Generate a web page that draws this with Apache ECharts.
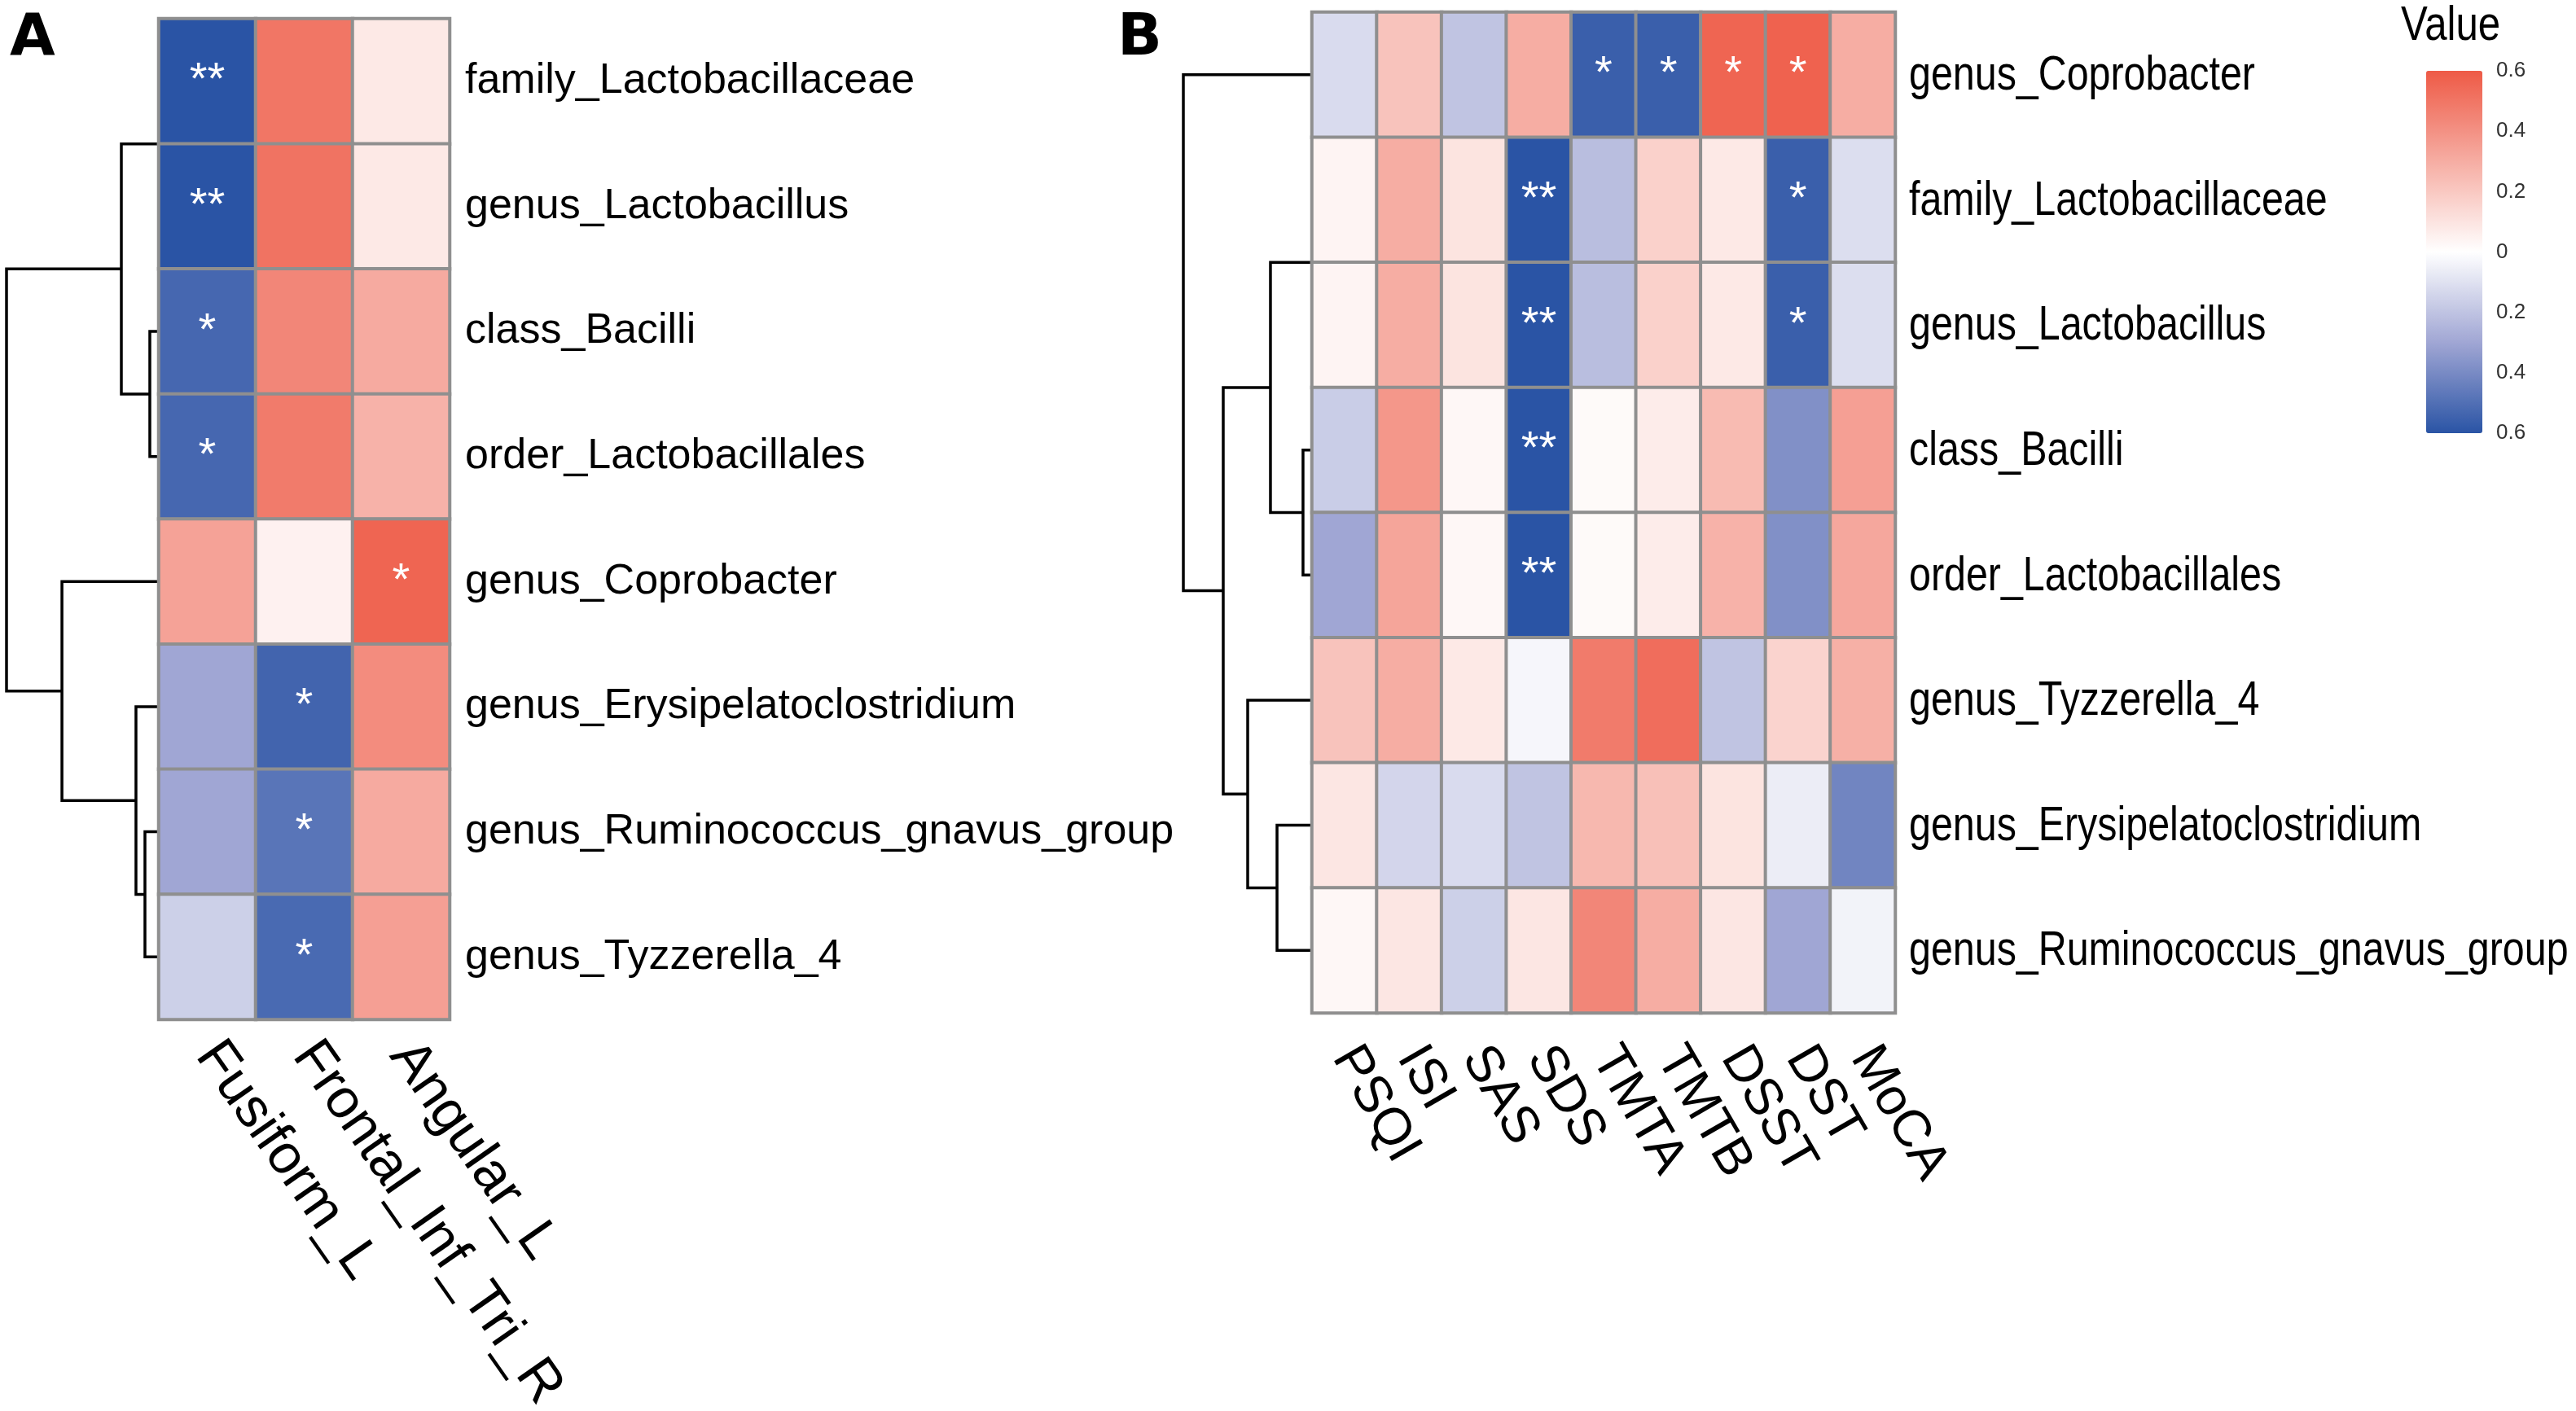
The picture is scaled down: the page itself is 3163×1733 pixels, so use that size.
<!DOCTYPE html>
<html><head><meta charset="utf-8">
<script src="https://cdn.jsdelivr.net/npm/echarts@6/dist/echarts.min.js"></script>
<style>html,body{margin:0;padding:0;background:#fff}#c{width:3163px;height:1733px}</style>
</head><body><div id="c"></div>
<script>
// ---------- Panel A data ----------
const rowsA = ['family_Lactobacillaceae','genus_Lactobacillus','class_Bacilli','order_Lactobacillales','genus_Coprobacter','genus_Erysipelatoclostridium','genus_Ruminococcus_gnavus_group','genus_Tyzzerella_4'];
const colsA = ['Fusiform_L','Frontal_Inf_Tri_R','Angular_L'];
const valsA = [
  [-0.60, 0.50, 0.08],
  [-0.60, 0.51, 0.08],
  [-0.53, 0.44, 0.31],
  [-0.53, 0.48, 0.28],
  [ 0.34, 0.05, 0.56],
  [-0.30,-0.54, 0.42],
  [-0.30,-0.48, 0.31],
  [-0.16,-0.52, 0.35]
];
const sigA = [
  ['**','',''],
  ['**','',''],
  ['*','',''],
  ['*','',''],
  ['','','*'],
  ['','*',''],
  ['','*',''],
  ['','*','']
];
// hclust-style merges (negative = leaf row number, positive = earlier merge) and heights
const mergeA = [[-1,-2],[-3,-4],[-7,-8],[-6,3],[1,2],[-5,4],[5,6]];
const heightA = [0, 0.059, 0.091, 0.150, 0.246, 0.636, 1.0];

// ---------- Panel B data ----------
const rowsB = ['genus_Coprobacter','family_Lactobacillaceae','genus_Lactobacillus','class_Bacilli','order_Lactobacillales','genus_Tyzzerella_4','genus_Erysipelatoclostridium','genus_Ruminococcus_gnavus_group'];
const colsB = ['PSQI','ISI','SAS','SDS','TMTA','TMTB','DSST','DST','MoCA'];
const valsB = [
  [-0.12, 0.22,-0.20, 0.30,-0.56,-0.56, 0.56, 0.57, 0.30],
  [ 0.04, 0.30, 0.10,-0.60,-0.22, 0.17, 0.08,-0.56,-0.11],
  [ 0.04, 0.30, 0.10,-0.60,-0.22, 0.17, 0.08,-0.56,-0.11],
  [-0.17, 0.38, 0.03,-0.60, 0.02, 0.07, 0.25,-0.38, 0.35],
  [-0.30, 0.33, 0.03,-0.60, 0.02, 0.07, 0.28,-0.38, 0.32],
  [ 0.22, 0.30, 0.08,-0.03, 0.48, 0.53,-0.20, 0.16, 0.29],
  [ 0.09,-0.14,-0.12,-0.20, 0.26, 0.23, 0.10,-0.06,-0.42],
  [ 0.03, 0.09,-0.16, 0.09, 0.44, 0.30, 0.09,-0.30,-0.04]
];
const sigB = [
  ['','','','','*','*','*','*',''],
  ['','','','**','','','','*',''],
  ['','','','**','','','','*',''],
  ['','','','**','','','','',''],
  ['','','','**','','','','',''],
  ['','','','','','','','',''],
  ['','','','','','','','',''],
  ['','','','','','','','','']
];
const mergeB = [[-2,-3],[-4,-5],[-7,-8],[1,2],[-6,3],[4,5],[-1,6]];
const heightB = [0, 0.070, 0.272, 0.323, 0.50, 0.69, 1.0];

// ---------- Legend ----------
const legendTitle = 'Value';
const legendMin = -0.6, legendMax = 0.6, legendStep = 0.2;
const palette = ['#2A54A5', '#A0A6D4', '#FFFFFF', '#F6ADA3', '#EE5A46'];

// ---------- helpers ----------
function heatData(vals){
  const d = [];
  vals.forEach((row, r) => row.forEach((v, c) => d.push([c, r, v])));
  return d;
}
function dendro(merge, heights){
  const pos = [], out = [];
  merge.forEach((m, i) => {
    const get = k => k < 0 ? [-k - 1, 0] : [pos[k - 1], heights[k - 1]];
    const [ya, ha] = get(m[0]);
    const [yb, hb] = get(m[1]);
    pos[i] = (ya + yb) / 2;
    out.push([ha, ya, heights[i], yb, hb]);
  });
  return out;
}
function renderU(params, api){
  const p1 = api.coord([api.value(0), api.value(1)]);
  const p2 = api.coord([api.value(2), api.value(1)]);
  const p3 = api.coord([api.value(2), api.value(3)]);
  const p4 = api.coord([api.value(4), api.value(3)]);
  return {type:'polyline', shape:{points:[p1,p2,p3,p4]}, style:{stroke:'#000', lineWidth:3.5, fill:null}};
}

const SANS = "'Liberation Sans', Arial, sans-serif";
const NARROW_SCALE = 0.82;  // condensed look of panel B text
const cellBorder = '#8f8f8f';

// Row labels of panel B (condensed), placed from the category axes
function renderRowLabelB(params, api){
  const p = api.coord([api.value(0), api.value(1)]);
  const s = api.size([1, 1]);
  return {type:'text', x: p[0] + s[0] / 2 + 17, y: p[1] + 2, scaleX: NARROW_SCALE,
    style:{text: rowsB[params.dataIndex], x:0, y:0, align:'left', verticalAlign:'middle',
      fontSize:59, fontFamily:SANS, fill:'#000'}};
}

const chart = echarts.init(document.getElementById('c'), null, {renderer:'canvas'});
const starLabel = (sig) => ({
  show: true, color: '#fff', fontSize: 56, fontFamily: SANS,
  formatter: p => sig[p.data[1]][p.data[0]]
});
const gridBase = {containLabel:false, outerBoundsMode:'none'};

chart.setOption({
  animation: false,
  backgroundColor: '#fff',
  grid: [
    Object.assign({left:195, top:23, width:357, height:1229}, gridBase),
    Object.assign({left:0, top:23, width:195, height:1229}, gridBase),
    Object.assign({left:1611, top:15, width:716, height:1229}, gridBase),
    Object.assign({left:1443, top:15, width:168, height:1229}, gridBase),
    Object.assign({left:2979, top:87, width:69, height:445}, gridBase)
  ],
  xAxis: [
    {gridIndex:0, type:'category', data:colsA, position:'bottom',
     axisLine:{show:false}, axisTick:{show:false}, splitLine:{show:false},
     axisLabel:{interval:0, rotate:-55, margin:34, fontSize:68, color:'#000', fontFamily:SANS}},
    {gridIndex:1, type:'value', min:0, max:195/187, inverse:true, show:false},
    {gridIndex:2, type:'category', data:colsB, position:'bottom',
     axisLine:{show:false}, axisTick:{show:false}, splitLine:{show:false},
     axisLabel:{interval:0, rotate:-60, margin:46, fontSize:64, color:'#000', fontFamily:SANS}},
    {gridIndex:3, type:'value', min:0, max:168/158, inverse:true, show:false},
    {gridIndex:4, type:'value', show:false}
  ],
  yAxis: [
    {gridIndex:0, type:'category', data:rowsA, inverse:true, position:'right',
     axisLine:{show:false}, axisTick:{show:false}, splitLine:{show:false},
     axisLabel:{interval:0, margin:19, fontSize:52, color:'#000', fontFamily:SANS}},
    {gridIndex:1, type:'value', min:-0.5, max:7.5, inverse:true, show:false},
    {gridIndex:2, type:'category', data:rowsB, inverse:true, position:'right',
     axisLine:{show:false}, axisTick:{show:false}, splitLine:{show:false},
     axisLabel:{show:false}},
    {gridIndex:3, type:'value', min:-0.5, max:7.5, inverse:true, show:false},
    {gridIndex:4, type:'value', min:legendMin, max:legendMax, interval:legendStep, position:'right',
     axisLine:{show:false}, axisTick:{show:false}, splitLine:{show:false},
     axisLabel:{margin:17, fontSize:26, color:'#333', fontFamily:SANS,
       formatter: v => { const a = Math.abs(Math.round(v*10)/10); return a === 0 ? '0' : a.toFixed(1); }}}
  ],
  visualMap: {
    type:'continuous', min:legendMin, max:legendMax, seriesIndex:[0,1],
    orient:'vertical', left:2979, top:87, itemWidth:69, itemHeight:445,
    calculable:false, padding:0, text:null, hoverLink:false,
    inRange:{color:palette}
  },
  series: [
    {type:'heatmap', xAxisIndex:0, yAxisIndex:0, data:heatData(valsA), z:3,
     itemStyle:{borderColor:cellBorder, borderWidth:4}, label:starLabel(sigA)},
    {type:'heatmap', xAxisIndex:2, yAxisIndex:2, data:heatData(valsB), z:3,
     itemStyle:{borderColor:cellBorder, borderWidth:4}, label:starLabel(sigB)},
    {type:'custom', xAxisIndex:1, yAxisIndex:1, data:dendro(mergeA, heightA), z:1,
     encode:{x:[0,2,4], y:[1,3]}, renderItem:renderU, silent:true},
    {type:'custom', xAxisIndex:3, yAxisIndex:3, data:dendro(mergeB, heightB), z:1,
     encode:{x:[0,2,4], y:[1,3]}, renderItem:renderU, silent:true},
    {type:'custom', xAxisIndex:2, yAxisIndex:2, z:4, silent:true, clip:false,
     data: rowsB.map((_, i) => [colsB.length - 1, i]),
     encode:{x:0, y:1}, renderItem:renderRowLabelB}
  ],
  graphic: [
    {type:'text', x:12, y:12, style:{text:'A', fontSize:72, fontWeight:900, fontFamily:"'DejaVu Sans', sans-serif", fill:'#000', verticalAlign:'top'}},
    {type:'text', x:1372, y:12, style:{text:'B', fontSize:72, fontWeight:900, fontFamily:"'DejaVu Sans', sans-serif", fill:'#000', verticalAlign:'top'}},
    {type:'text', x:2948, y:2, scaleX:NARROW_SCALE, style:{text:legendTitle, fontSize:60, fontFamily:SANS, fill:'#000', verticalAlign:'top'}}
  ]
});
</script></body></html>
